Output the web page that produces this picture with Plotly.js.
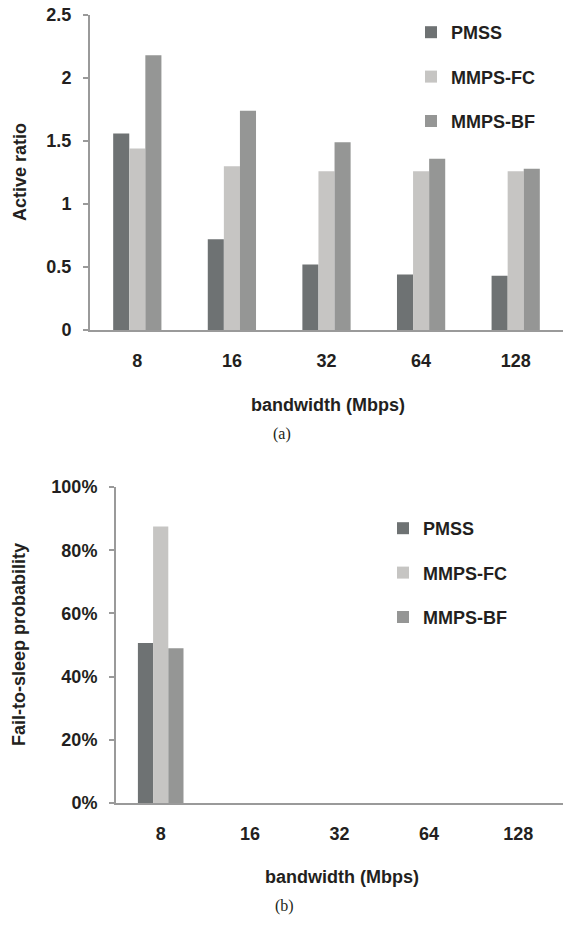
<!DOCTYPE html>
<html>
<head>
<meta charset="utf-8">
<script src="https://cdn.plot.ly/plotly-3.0.1.min.js"></script>
<style>html,body{margin:0;padding:0;background:#fff;}#chart{width:563px;height:927px;}</style>
</head>
<body>
<div id="chart"></div>
<script>
// ---- data ----
var categories = ['8', '16', '32', '64', '128'];
var seriesNames = ['PMSS', 'MMPS-FC', 'MMPS-BF'];
var activePMSS = [1.56, 0.72, 0.52, 0.44, 0.43];
var activeFC   = [1.44, 1.30, 1.26, 1.26, 1.26];
var activeBF   = [2.18, 1.74, 1.49, 1.36, 1.28];
var failPMSS = [0.506, 0, 0, 0, 0];
var failFC   = [0.875, 0, 0, 0, 0];
var failBF   = [0.49, 0, 0, 0, 0];
var activeTicks = [0, 0.5, 1, 1.5, 2, 2.5];
var failTicks = [0, 0.2, 0.4, 0.6, 0.8, 1.0];

var colors = ['#6e7273', '#c6c5c3', '#959695'];
var H = 927, W = 563;
function py(p) { return (H - p) / H; }
function px(p) { return p / W; }

var FONT = {family: 'Liberation Sans, Arial, sans-serif', size: 18, color: '#231f20', weight: 700};
var CAPFONT = {family: 'Liberation Serif, Times New Roman, serif', size: 16, color: '#231f20', weight: 400};

var topSeries = [activePMSS, activeFC, activeBF];
var botSeries = [failPMSS, failFC, failBF];
var traces = [];
for (var i = 0; i < 3; i++) {
  traces.push({type: 'bar', x: categories, y: topSeries[i], name: seriesNames[i],
    marker: {color: colors[i], line: {width: 0}}, xaxis: 'x', yaxis: 'y',
    legend: 'legend', legendgroup: 'a' + i, hoverinfo: 'none'});
}
for (var j = 0; j < 3; j++) {
  traces.push({type: 'bar', x: categories, y: botSeries[j], name: seriesNames[j],
    marker: {color: colors[j], line: {width: 0}}, xaxis: 'x2', yaxis: 'y2',
    legend: 'legend2', legendgroup: 'b' + j, hoverinfo: 'none'});
}

var axisLine = {showline: true, linecolor: '#9a9a9a', linewidth: 2, showgrid: false, zeroline: false};

var layout = {
  width: W, height: H,
  margin: {l: 0, r: 0, t: 0, b: 0},
  paper_bgcolor: '#ffffff', plot_bgcolor: '#ffffff',
  barmode: 'group', bargap: 0.49, bargroupgap: 0,
  font: FONT,
  showlegend: true,
  xaxis: Object.assign({}, axisLine, {domain: [px(90), 1], anchor: 'y', type: 'category',
    categoryorder: 'array', categoryarray: categories, ticks: '', tickfont: FONT, ticklabelstandoff: 13}),
  yaxis: Object.assign({}, axisLine, {domain: [py(330), py(15)], anchor: 'x', range: [0, 2.5],
    tickvals: activeTicks, ticks: 'outside', ticklen: 5, tickwidth: 2, tickcolor: '#9a9a9a',
    tickfont: FONT, ticklabelstandoff: 8}),
  xaxis2: Object.assign({}, axisLine, {domain: [px(116), 1], anchor: 'y2', type: 'category',
    categoryorder: 'array', categoryarray: categories, ticks: '', tickfont: FONT, ticklabelstandoff: 13}),
  yaxis2: Object.assign({}, axisLine, {domain: [py(803), py(487)], anchor: 'x2', range: [0, 1],
    tickvals: failTicks, tickformat: '.0%', ticks: 'outside', ticklen: 5, tickwidth: 2, tickcolor: '#9a9a9a',
    tickfont: FONT, ticklabelstandoff: 8}),
  legend: {x: px(411), y: py(14), xanchor: 'left', yanchor: 'top', bgcolor: 'rgba(0,0,0,0)',
    font: FONT, tracegroupgap: 18, traceorder: 'grouped', itemclick: false},
  legend2: {x: px(383), y: py(510), xanchor: 'left', yanchor: 'top', bgcolor: 'rgba(0,0,0,0)',
    font: FONT, tracegroupgap: 18, traceorder: 'grouped', itemclick: false},
  annotations: [
    {text: 'Active ratio', xref: 'paper', yref: 'paper', x: px(20), y: py(172), textangle: -90,
     showarrow: false, font: FONT, xanchor: 'center', yanchor: 'middle'},
    {text: 'bandwidth (Mbps)', xref: 'paper', yref: 'paper', x: px(328), y: py(405),
     showarrow: false, font: FONT, xanchor: 'center', yanchor: 'middle'},
    {text: '(a)', xref: 'paper', yref: 'paper', x: px(282), y: py(434),
     showarrow: false, font: CAPFONT, xanchor: 'center', yanchor: 'middle'},
    {text: 'Fail-to-sleep probability', xref: 'paper', yref: 'paper', x: px(19), y: py(645), textangle: -90,
     showarrow: false, font: FONT, xanchor: 'center', yanchor: 'middle'},
    {text: 'bandwidth (Mbps)', xref: 'paper', yref: 'paper', x: px(342), y: py(877),
     showarrow: false, font: FONT, xanchor: 'center', yanchor: 'middle'},
    {text: '(b)', xref: 'paper', yref: 'paper', x: px(284), y: py(906),
     showarrow: false, font: CAPFONT, xanchor: 'center', yanchor: 'middle'}
  ]
};

Plotly.newPlot('chart', traces, layout, {staticPlot: true, displayModeBar: false});
</script>
</body>
</html>
